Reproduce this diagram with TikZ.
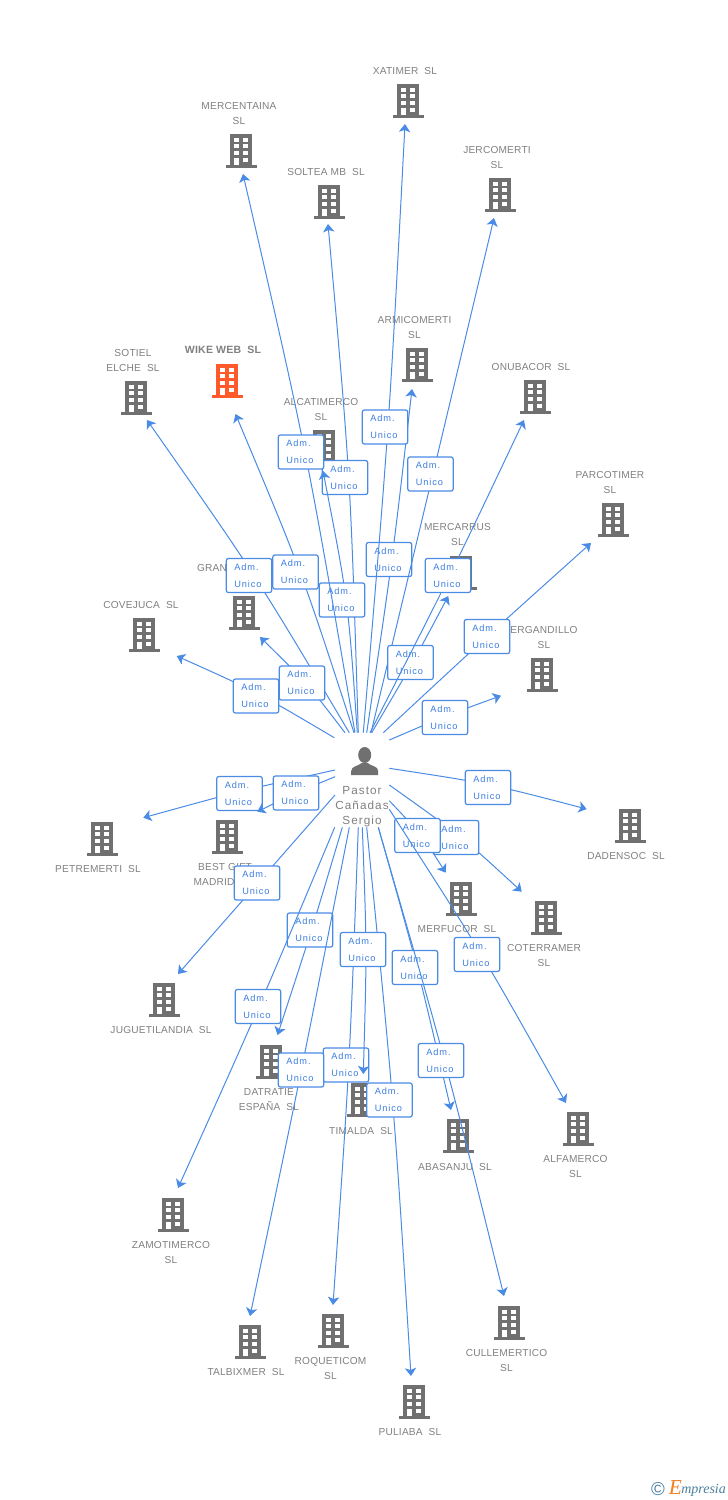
\documentclass[tikz,border=0pt]{standalone}
\usepackage{fontspec}
\usetikzlibrary{arrows.meta}
\setmainfont{Liberation Sans}
\newfontfamily\firmfont[LetterSpace=2]{Liberation Sans}
\newfontfamily\pastorfont[LetterSpace=9]{Liberation Sans}
\newfontfamily\admfont[LetterSpace=10]{Liberation Sans}
\newfontfamily\logofont[Ligatures=TeX]{Liberation Serif}
\definecolor{firmgray}{HTML}{707070}
\definecolor{firmorange}{HTML}{FF5A2B}
\definecolor{labelgray}{HTML}{808080}
\definecolor{linkblue}{HTML}{4A8BE5}
\definecolor{admblue}{HTML}{3B7DE0}
\definecolor{logoblue}{HTML}{4A7F9F}
\definecolor{logoorange}{HTML}{F08020}
\tikzset{
  firm/.style={text=labelgray,align=center,inner sep=0pt,yshift=-.75pt,
    font={\firmfont\fontsize{7.6}{11.25}\selectfont}},
  firmbold/.style={firm,font={\firmfont\bfseries\fontsize{7.9}{11.25}\selectfont}},
  pastorname/.style={firm,yshift=-1.2pt,font={\pastorfont\fontsize{8.8}{11.25}\selectfont}},
  link/.style={draw=linkblue,line width=.75pt,-{Stealth[length=6pt,width=8.5pt,inset=1.5pt]}},
  adm/.style={draw=linkblue,line width=.9pt,fill=white,rounded corners=1.5pt,text=admblue,
    align=left,text width=22pt,inner xsep=6pt,inner ysep=0pt,minimum height=25.5pt,
    execute at begin node={\vspace*{1.5pt}},
    font={\admfont\fontsize{6.9}{11.25}\selectfont}},
  building/.pic={
    \fill[pic actions] (-11,-17) rectangle (11,14);
    \fill[pic actions] (-15.5,14) rectangle (15.5,17);
    \fill[white] (-7,-13.5) rectangle (-2,-9.5);
    \fill[white] (2,-13.5) rectangle (7,-9.5);
    \fill[white] (-7,-7) rectangle (-2,-3);
    \fill[white] (2,-7) rectangle (7,-3);
    \fill[white] (-7,0) rectangle (-2,4);
    \fill[white] (2,0) rectangle (7,4);
    \fill[white] (-7,7) rectangle (-2,14);
    \fill[white] (2,7) rectangle (7,11);
  },
  person/.pic={
    \fill[firmgray] (0,-8) ellipse (6.5 and 8);
    \fill[firmgray] (-13.5,12) -- (-13.5,8) .. controls (-13.5,3) and (-6,3) .. (-3,0)
      -- (3,0) .. controls (6,3) and (13.5,3) .. (13.5,8) -- (13.5,12) -- cycle;
  }
}
\begin{document}
\begin{tikzpicture}[x=.75pt,y=-.75pt]
\useasboundingbox (0,0) rectangle (728,1500);

% firms above
\pic[fill=firmgray] at (408,101) {building};
\node[firm] (xatimer) at (405,70) {XATIMER~~SL};
\coordinate (xatimertip) at (405,124);
\pic[fill=firmgray] at (241,151) {building};
\node[firm] (mercentaina) at (239,112.5) {MERCENTAINA\\SL};
\coordinate (mercentainatip) at (243,174);
\pic[fill=firmgray] at (329,202) {building};
\node[firm] (soltea) at (326,171) {SOLTEA MB~~SL};
\coordinate (solteatip) at (328,224);
\pic[fill=firmgray] at (500,195) {building};
\node[firm] (jercomerti) at (497,156.5) {JERCOMERTI\\SL};
\coordinate (jercomertitip) at (494,218);
\pic[fill=firmgray] at (417,365) {building};
\node[firm] (armicomerti) at (414.5,326.5) {ARMICOMERTI\\SL};
\coordinate (armicomertitip) at (412,389);
\pic[fill=firmorange] at (227,381) {building};
\node[firmbold] (wike) at (223,349) {WIKE WEB~~SL};
\coordinate (wiketip) at (235.5,414);
\pic[fill=firmgray] at (136,398) {building};
\node[firm] (sotiel) at (133,359.5) {SOTIEL\\ELCHE~~SL};
\coordinate (sotieltip) at (147,420);
\pic[fill=firmgray] at (535,397) {building};
\node[firm] (onubacor) at (531,366) {ONUBACOR~~SL};
\coordinate (onubacortip) at (524,420);
\pic[fill=firmgray] at (324,447) {building};
\node[firm] (alcatimerco) at (321,408.5) {ALCATIMERCO\\SL};
\coordinate (alcatimercotip) at (323,471);
\pic[fill=firmgray] at (613,520) {building};
\node[firm] (parcotimer) at (610,481.5) {PARCOTIMER\\SL};
\coordinate (parcotimertip) at (591,543);
\pic[fill=firmgray] at (461,573) {building};
\node[firm] (mercarrus) at (457.5,533.5) {MERCARRUS\\SL};
\coordinate (mercarrustip) at (448.3,596);
\pic[fill=firmgray] at (244,613) {building};
\node[firm] (gran) at (212,567) {GRAN};
\coordinate (grantip) at (260,637);
\pic[fill=firmgray] at (144,635) {building};
\node[firm] (covejuca) at (141,604) {COVEJUCA~~SL};
\coordinate (covejucatip) at (176.7,656);
\pic[fill=firmgray] at (542,675) {building};
\node[firm] (ergandillo) at (544,636.5) {ERGANDILLO\\SL};
\coordinate (ergandillotip) at (501,695.7);

% firms below
\pic[fill=firmgray] at (630,826) {building};
\node[firm] (dadensoc) at (626,855) {DADENSOC~~SL};
\coordinate (dadensoctip) at (586.7,809);
\pic[fill=firmgray] at (102,839) {building};
\node[firm] (petremerti) at (98,868) {PETREMERTI~~SL};
\coordinate (petremertitip) at (143.3,817.7);
\pic[fill=firmgray] at (227,837) {building};
\node[firm] (bestgift) at (225,866) {BEST GIFT};
\node[firm] (madrid) at (214,881) {MADRID};
\coordinate (bestgifttip) at (257.3,811.7);
\pic[fill=firmgray] at (461,899) {building};
\node[firm] (merfucor) at (457,928) {MERFUCOR~~SL};
\coordinate (merfucortip) at (445.7,872.7);
\pic[fill=firmgray] at (546,918) {building};
\node[firm] (coterramer) at (544,954.5) {COTERRAMER\\SL};
\coordinate (coterramertip) at (521.7,891.7);
\pic[fill=firmgray] at (164,1000) {building};
\node[firm] (juguetilandia) at (161,1029) {JUGUETILANDIA~~SL};
\coordinate (juguetilandiatip) at (178,974);
\pic[fill=firmgray] at (271,1062) {building};
\node[firm] (datratie) at (269,1098.5) {DATRATIE\\ESPAÑA~~SL};
\coordinate (datratietip) at (277.5,1035);
\pic[fill=firmgray] at (362,1100) {building};
\node[firm] (timalda) at (361,1130) {TIMALDA~~SL};
\coordinate (timaldatip) at (363.3,1074);
\pic[fill=firmgray] at (458,1136) {building};
\node[firm] (abasanju) at (455,1166) {ABASANJU~~SL};
\coordinate (abasanjutip) at (451,1110);
\pic[fill=firmgray] at (578,1129) {building};
\node[firm] (alfamerco) at (575.5,1165.5) {ALFAMERCO\\SL};
\coordinate (alfamercotip) at (566,1103);
\pic[fill=firmgray] at (173,1215) {building};
\node[firm] (zamotimerco) at (171,1251.5) {ZAMOTIMERCO\\SL};
\coordinate (zamotimercotip) at (178,1188);
\pic[fill=firmgray] at (250,1342) {building};
\node[firm] (talbixmer) at (246,1371) {TALBIXMER~~SL};
\coordinate (talbixmertip) at (250,1316);
\pic[fill=firmgray] at (333,1331) {building};
\node[firm] (roqueticom) at (330.5,1367.5) {ROQUETICOM\\SL};
\coordinate (roqueticomtip) at (333,1305);
\pic[fill=firmgray] at (509,1323) {building};
\node[firm] (cullemertico) at (506.5,1359.5) {CULLEMERTICO\\SL};
\coordinate (cullemerticotip) at (504,1296);
\pic[fill=firmgray] at (414,1402) {building};
\node[firm] (puliaba) at (410,1431) {PULIABA~~SL};
\coordinate (puliabatip) at (411,1376);

% the person
\pic at (364.7,763) {person};
\node[pastorname] (pastor) at (362,804) {Pastor\\Cañadas\\Sergio};

% links with their boxes, top
\coordinate (armicomertiout) at (366.7,732.7);
\coordinate (armicomertibend) at (392.5,559.7);
\draw[link] (armicomertiout) .. controls (armicomertibend) .. (armicomertitip);
\node[adm] (armicomertiadm) at (389,559.5) {Adm.\\Unico};
\coordinate (xatimerout) at (363.3,732.7);
\coordinate (xatimerbend) at (389.1,427.2);
\draw[link] (xatimerout) .. controls (xatimerbend) .. (xatimertip);
\node[adm] (xatimeradm) at (385,427) {Adm.\\Unico};
\coordinate (solteaout) at (358.3,732.7);
\coordinate (solteabend) at (350.5,477.2);
\draw[link] (solteaout) .. controls (solteabend) .. (solteatip);
\node[adm] (solteaadm) at (345,477.5) {Adm.\\Unico};
\coordinate (alcatimercoout) at (357.3,732.7);
\coordinate (alcatimercobend) at (348,599.4);
\draw[link] (alcatimercoout) .. controls (alcatimercobend) .. (alcatimercotip);
\node[adm] (alcatimercoadm) at (342,600) {Adm.\\Unico};
\coordinate (mercentainaout) at (355,732.7);
\coordinate (mercentainabend) at (307,452.2);
\draw[link] (mercentainaout) .. controls (mercentainabend) .. (mercentainatip);
\node[adm] (mercentainaadm) at (301,452) {Adm.\\Unico};
\coordinate (jercomertiout) at (371,732.7);
\coordinate (jercomertibend) at (433,473.8);
\draw[link] (jercomertiout) .. controls (jercomertibend) .. (jercomertitip);
\node[adm] (jercomertiadm) at (430.5,474) {Adm.\\Unico};
\coordinate (wikeout) at (354,732.7);
\coordinate (wikebend) at (301.9,572.2);
\draw[link] (wikeout) .. controls (wikebend) .. (wiketip);
\node[adm] (wikeadm) at (295.5,572) {Adm.\\Unico};
\coordinate (sotielout) at (349.3,732.7);
\coordinate (sotielbend) at (255.5,575);
\draw[link] (sotielout) .. controls (sotielbend) .. (sotieltip);
\node[adm] (sotieladm) at (249,575.5) {Adm.\\Unico};
\coordinate (mercarrusout) at (371.7,732.7);
\coordinate (mercarrusbend) at (412.7,663);
\draw[link] (mercarrusout) .. controls (mercarrusbend) .. (mercarrustip);
\node[adm] (mercarrusadm) at (410.5,662.5) {Adm.\\Unico};
\coordinate (onubacorout) at (370,732.7);
\coordinate (onubacorbend) at (451,574.1);
\draw[link] (onubacorout) .. controls (onubacorbend) .. (onubacortip);
\node[adm] (onubacoradm) at (448,575.5) {Adm.\\Unico};
\coordinate (covejucaout) at (334.3,737.7);
\coordinate (covejucabend) at (257,692);
\draw[link] (covejucaout) .. controls (covejucabend) .. (covejucatip);
\node[adm] (covejucaadm) at (256,696) {Adm.\\Unico};
\coordinate (granout) at (345,732.7);
\coordinate (granbend) at (307.2,683.3);
\draw[link] (granout) .. controls (granbend) .. (grantip);
\node[adm] (granadm) at (302,683) {Adm.\\Unico};
\coordinate (parcotimerout) at (383.3,732.7);
\coordinate (parcotimerbend) at (487.4,636);
\draw[link] (parcotimerout) .. controls (parcotimerbend) .. (parcotimertip);
\node[adm] (parcotimeradm) at (487,636.5) {Adm.\\Unico};
\coordinate (ergandilloout) at (389.3,740);
\coordinate (ergandillobend) at (445.2,716);
\draw[link] (ergandilloout) .. controls (ergandillobend) .. (ergandillotip);
\node[adm] (ergandilloadm) at (445,717.5) {Adm.\\Unico};

% links with their boxes, sides and bottom
\coordinate (dadensocout) at (389.3,768.3);
\coordinate (dadensocbend) at (489,783.5);
\draw[link] (dadensocout) .. controls (dadensocbend) .. (dadensoctip);
\node[adm] (dadensocadm) at (488,787.5) {Adm.\\Unico};
\coordinate (coterramerout) at (389.3,785);
\coordinate (coterramerbend) at (462,836.7);
\draw[link] (coterramerout) .. controls (coterramerbend) .. (coterramertip);
\node[adm] (coterrameradm) at (456,837.5) {Adm.\\Unico};
\coordinate (merfucorout) at (389.3,800.7);
\coordinate (merfucorbend) at (422,835.3);
\draw[link] (merfucorout) .. controls (merfucorbend) .. (merfucortip);
\node[adm] (merfucoradm) at (417.5,835.5) {Adm.\\Unico};
\coordinate (alfamercoout) at (389.3,809.3);
\coordinate (alfamercobend) at (482.1,953.3);
\draw[link] (alfamercoout) .. controls (alfamercobend) .. (alfamercotip);
\node[adm] (alfamercoadm) at (477,954.5) {Adm.\\Unico};
\coordinate (petremertiout) at (335,770);
\coordinate (petremertibend) at (240.3,790.9);
\draw[link] (petremertiout) .. controls (petremertibend) .. (petremertitip);
\node[adm] (petremertiadm) at (239.5,793.5) {Adm.\\Unico};
\coordinate (bestgiftout) at (335,776.7);
\coordinate (bestgiftbend) at (296.4,792.6);
\draw[link] (bestgiftout) .. controls (bestgiftbend) .. (bestgifttip);
\node[adm] (bestgiftadm) at (296,793) {Adm.\\Unico};
\coordinate (juguetilandiaout) at (335,795);
\coordinate (juguetilandiabend) at (258.9,882.8);
\draw[link] (juguetilandiaout) .. controls (juguetilandiabend) .. (juguetilandiatip);
\node[adm] (juguetilandiaadm) at (257,883) {Adm.\\Unico};
\coordinate (datratieout) at (342.3,827.3);
\coordinate (datratiebend) at (311.8,930);
\draw[link] (datratieout) .. controls (datratiebend) .. (datratietip);
\node[adm] (datratieadm) at (310,930) {Adm.\\Unico};
\coordinate (zamotimercoout) at (334.7,827.3);
\coordinate (zamotimercobend) at (260.2,1005.2);
\draw[link] (zamotimercoout) .. controls (zamotimercobend) .. (zamotimercotip);
\node[adm] (zamotimercoadm) at (258,1006.5) {Adm.\\Unico};
\coordinate (abasanjuout) at (378.3,827.3);
\coordinate (abasanjubend) at (417.8,967.1);
\draw[link] (abasanjuout) .. controls (abasanjubend) .. (abasanjutip);
\node[adm] (abasanjuadm) at (415,967.5) {Adm.\\Unico};
\coordinate (cullemerticoout) at (378.3,827.3);
\coordinate (cullemerticobend) at (445.6,1060.1);
\draw[link] (cullemerticoout) .. controls (cullemerticobend) .. (cullemerticotip);
\node[adm] (cullemerticoadm) at (441,1060.5) {Adm.\\Unico};
\coordinate (puliabaout) at (366.7,827.3);
\coordinate (puliababend) at (393.7,1100);
\draw[link] (puliabaout) .. controls (puliababend) .. (puliabatip);
\node[adm] (puliabaadm) at (389.5,1100) {Adm.\\Unico};
\coordinate (roqueticomout) at (358.3,827.3);
\coordinate (roqueticombend) at (349.7,1064.6);
\draw[link] (roqueticomout) .. controls (roqueticombend) .. (roqueticomtip);
\node[adm] (roqueticomadm) at (346,1065) {Adm.\\Unico};
\coordinate (timaldaout) at (362.3,827.3);
\coordinate (timaldabend) at (366.9,949.1);
\draw[link] (timaldaout) .. controls (timaldabend) .. (timaldatip);
\node[adm] (timaldaadm) at (363,949.5) {Adm.\\Unico};
\coordinate (talbixmerout) at (349.3,827.3);
\coordinate (talbixmerbend) at (301.7,1070.5);
\draw[link] (talbixmerout) .. controls (talbixmerbend) .. (talbixmertip);
\node[adm] (talbixmeradm) at (301,1070) {Adm.\\Unico};

% logo
\node[text=logoblue,inner sep=0pt,font={\fontsize{14}{14}\selectfont}] (copyright) at (658,1489) {©};
\node[text=logoorange,inner sep=0pt,font={\logofont\itshape\fontsize{16}{16}\selectfont}] (logoe) at (675.5,1487) {E};
\node[text=logoblue,anchor=west,inner sep=0pt,font={\logofont\itshape\fontsize{10.5}{10.5}\selectfont}] (logotext) at (681,1490) {mpresia};
\end{tikzpicture}
\end{document}
